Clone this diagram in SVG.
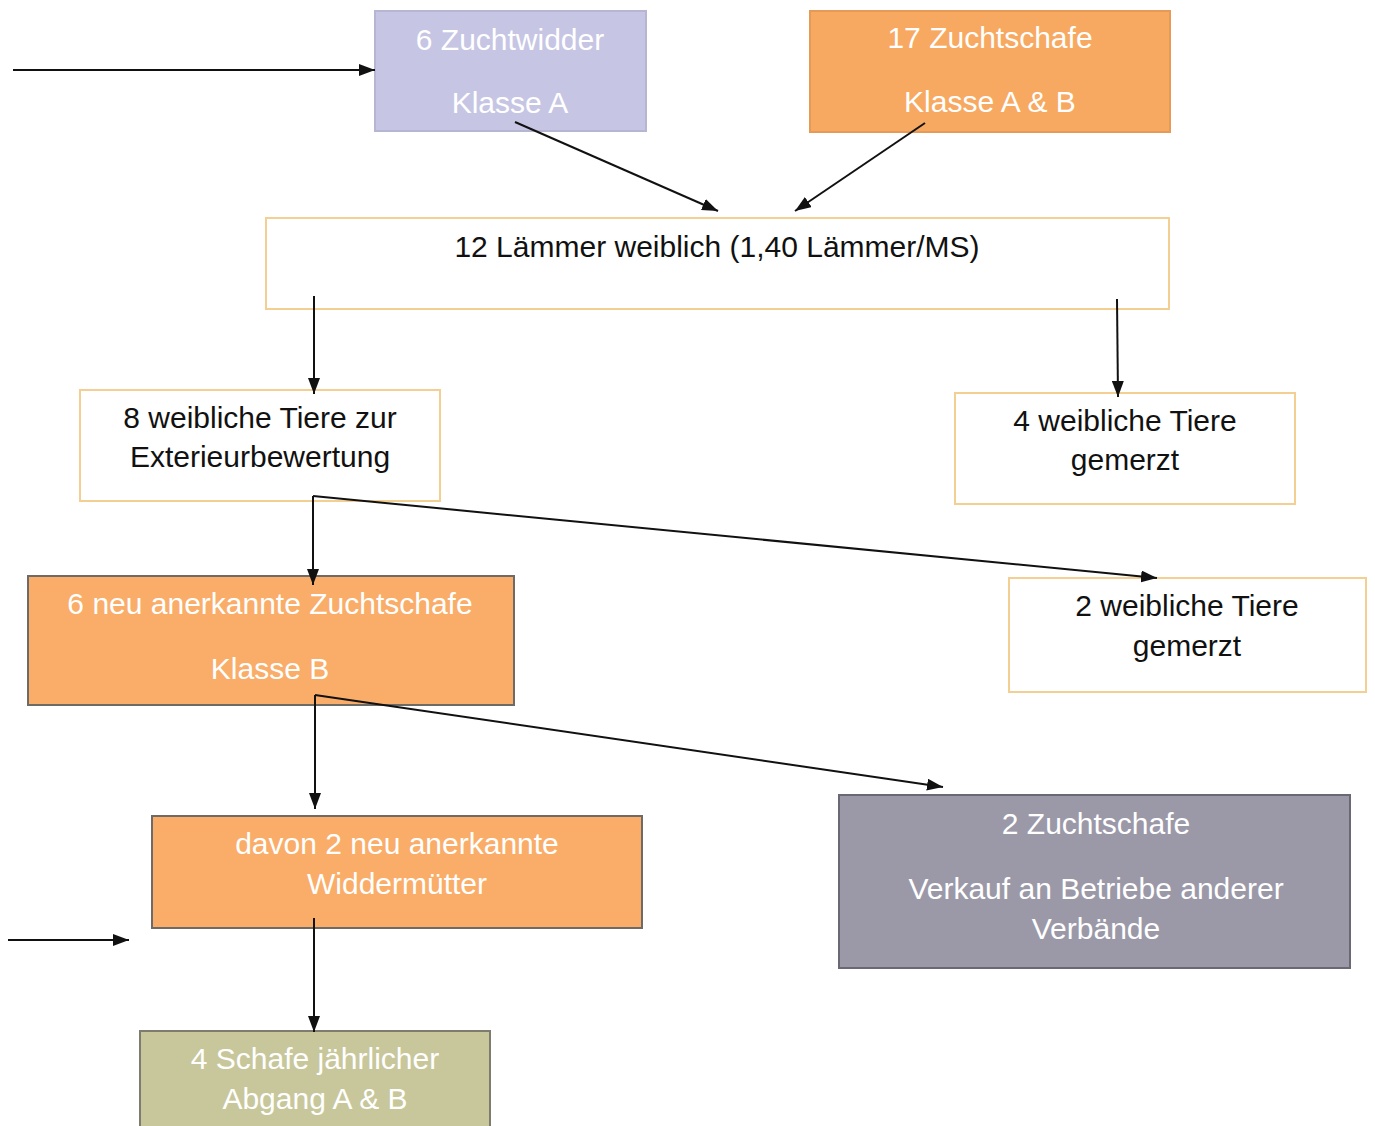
<svg xmlns="http://www.w3.org/2000/svg" width="1375" height="1126" viewBox="0 0 1375 1126">
<defs>
<marker id="ah" viewBox="0 0 16 12" refX="16" refY="6" markerWidth="16" markerHeight="12" markerUnits="userSpaceOnUse" orient="auto">
<path d="M0,0 L16,6 L0,12 z" fill="#111"/>
</marker>
<style>
text{font-family:"Liberation Sans",Arial,sans-serif;font-size:30px;text-anchor:middle}
.w{fill:#ffffff}
.k{fill:#111111}
.wb{fill:#ffffff;stroke:#f4cf94;stroke-width:2}
.or{fill:#f8a961;stroke:#e59a55;stroke-width:2}
.ord{fill:#f9ad69;stroke:#6e6a66;stroke-width:2}
.c line{stroke:#111;stroke-width:2;marker-end:url(#ah)}
</style>
</defs>
<rect width="1375" height="1126" fill="#ffffff"/>
<g id="n-widder">
<rect x="375" y="11" width="271" height="120" fill="#c6c6e4" stroke="#b6b6d2" stroke-width="2"/>
<text class="w" x="510" y="50">6 Zuchtwidder</text>
<text class="w" x="510" y="113">Klasse A</text>
</g>
<g id="n-schafe">
<rect x="810" y="11" width="360" height="121" class="or"/>
<text class="w" x="990" y="48">17 Zuchtschafe</text>
<text class="w" x="990" y="112">Klasse A &amp; B</text>
</g>
<g id="n-laemmer">
<rect x="266" y="218" width="903" height="91" class="wb"/>
<text class="k" x="717" y="257">12 Lämmer weiblich (1,40 Lämmer/MS)</text>
</g>
<g id="n-exterieur">
<rect x="80" y="390" width="360" height="111" class="wb"/>
<text class="k" x="260" y="428">8 weibliche Tiere zur</text>
<text class="k" x="260" y="467">Exterieurbewertung</text>
</g>
<g id="n-gemerzt4">
<rect x="955" y="393" width="340" height="111" class="wb"/>
<text class="k" x="1125" y="431">4 weibliche Tiere</text>
<text class="k" x="1125" y="470">gemerzt</text>
</g>
<g id="n-neu">
<rect x="28" y="576" width="486" height="129" class="ord"/>
<text class="w" x="270" y="614">6 neu anerkannte Zuchtschafe</text>
<text class="w" x="270" y="679">Klasse B</text>
</g>
<g id="n-gemerzt2">
<rect x="1009" y="578" width="357" height="114" class="wb"/>
<text class="k" x="1187" y="616">2 weibliche Tiere</text>
<text class="k" x="1187" y="656">gemerzt</text>
</g>
<g id="n-widdermuetter">
<rect x="152" y="816" width="490" height="112" class="ord"/>
<text class="w" x="397" y="854">davon 2 neu anerkannte</text>
<text class="w" x="397" y="894">Widdermütter</text>
</g>
<g id="n-verkauf">
<rect x="839" y="795" width="511" height="173" fill="#9b99a8" stroke="#6a6872" stroke-width="2"/>
<text class="w" x="1096" y="834">2 Zuchtschafe</text>
<text class="w" x="1096" y="899">Verkauf an Betriebe anderer</text>
<text class="w" x="1096" y="939">Verbände</text>
</g>
<g id="n-abgang">
<rect x="140" y="1031" width="350" height="100" fill="#c8c79b" stroke="#7e7c6e" stroke-width="2"/>
<text class="w" x="315" y="1069">4 Schafe jährlicher</text>
<text class="w" x="315" y="1109">Abgang A &amp; B</text>
</g>
<g id="connectors" class="c">
<line x1="13" y1="70" x2="375" y2="70"/>
<line x1="515" y1="122" x2="718" y2="211"/>
<line x1="925" y1="123" x2="795" y2="211"/>
<line x1="314" y1="296" x2="314" y2="394"/>
<line x1="1117" y1="299" x2="1118" y2="397"/>
<line x1="313" y1="496" x2="313" y2="585"/>
<line x1="313" y1="496" x2="1157" y2="578"/>
<line x1="315" y1="695" x2="315" y2="809"/>
<line x1="315" y1="695" x2="943" y2="787"/>
<line x1="314" y1="918" x2="314" y2="1032"/>
<line x1="8" y1="940" x2="129" y2="940"/>
</g>
</svg>
